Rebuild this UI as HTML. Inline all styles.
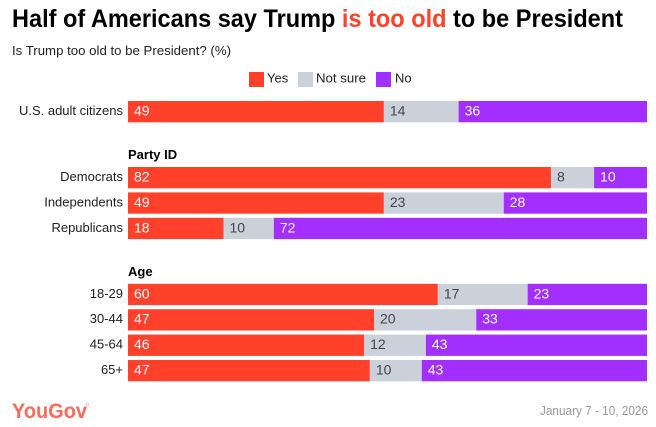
<!DOCTYPE html>
<html lang="en">
<head>
<meta charset="utf-8">
<title>Half of Americans say Trump is too old to be President</title>
<style>
html,body{margin:0;padding:0;background:#fff;width:656px;height:427px;overflow:hidden}
svg{display:block;font-family:"Liberation Sans",sans-serif}
</style>
</head>
<body>
<svg id="chart" xmlns="http://www.w3.org/2000/svg" width="656" height="427" viewBox="0 0 656 427">
  <rect x="0" y="0" width="656" height="427" fill="#fff"/>
  <text x="12" y="27" font-size="25" font-weight="700" fill="#000" textLength="611" lengthAdjust="spacingAndGlyphs">Half of Americans say Trump <tspan fill="#ff412c">is too old</tspan> to be President</text>
  <text x="12" y="55" font-size="13" fill="#222" textLength="219" lengthAdjust="spacingAndGlyphs">Is Trump too old to be President? (%)</text>

  <g>
    <rect x="249" y="72" width="15" height="15" fill="#ff412c"/>
    <text x="267" y="82.5" font-size="13" fill="#222">Yes</text>
    <rect x="298" y="72" width="15" height="15" fill="#cbd0da"/>
    <text x="316" y="82.5" font-size="13" fill="#222" textLength="50" lengthAdjust="spacingAndGlyphs">Not sure</text>
    <rect x="376" y="72" width="15" height="15" fill="#a32fff"/>
    <text x="395" y="82.5" font-size="13" fill="#222">No</text>
  </g>

  <g id="rows"></g>

  <text x="128" y="159" font-size="13" font-weight="700" fill="#000">Party ID</text>
  <text x="128" y="276" font-size="13" font-weight="700" fill="#000">Age</text>

  <text x="12" y="418" font-size="21" font-weight="700" fill="#ff6a58" textLength="75" lengthAdjust="spacingAndGlyphs">YouGov</text>
  <circle cx="87.5" cy="404.5" r="1.2" fill="none" stroke="#ffb0a6" stroke-width="0.6"/>
  <text x="648" y="415" font-size="13" fill="#999" text-anchor="end" textLength="108" lengthAdjust="spacingAndGlyphs">January 7 - 10, 2026</text>
</svg>
<script>
const categories = ['U.S. adult citizens', 'Democrats', 'Independents', 'Republicans', '18-29', '30-44', '45-64', '65+'];
const groupIndex = [0, 1, 1, 1, 2, 2, 2, 2];
const yesValues = [49.3, 81.5, 49.3, 18.4, 59.7, 47.4, 45.5, 46.6];
const notSureValues = [14.4, 8.3, 23.1, 9.7, 17.3, 19.7, 11.9, 10.0];
const noValues = [36.3, 10.2, 27.6, 71.9, 23.0, 32.9, 42.6, 43.4];

const svgNS = 'http://www.w3.org/2000/svg';
const rowsGroup = document.getElementById('rows');
const plotLeft = 128;
const plotWidth = 519;
const barHeight = 21.3;

function xScale(value) {
  return value / 100 * plotWidth;
}
function rowTop(index) {
  return 101 + index * 25.4 + groupIndex[index] * 40.6;
}
function drawSegment(parent, x, y, w, fill) {
  const rect = document.createElementNS(svgNS, 'rect');
  rect.setAttribute('x', x);
  rect.setAttribute('y', y);
  rect.setAttribute('width', w);
  rect.setAttribute('height', barHeight);
  rect.setAttribute('fill', fill);
  parent.appendChild(rect);
  return rect;
}
function drawValue(parent, x, y, value, fill) {
  const label = document.createElementNS(svgNS, 'text');
  label.setAttribute('x', x + 6);
  label.setAttribute('y', y + 14.5);
  label.setAttribute('font-size', '14');
  label.setAttribute('fill', fill);
  label.textContent = String(Math.round(value));
  parent.appendChild(label);
  return label;
}

categories.forEach(function (category, i) {
  const y = rowTop(i);
  const slug = category.toLowerCase().replace(/[^a-z0-9]+/g, '-');
  const row = document.createElementNS(svgNS, 'g');
  
  
  rowsGroup.appendChild(row);

  const rowLabel = document.createElementNS(svgNS, 'text');
  rowLabel.setAttribute('x', plotLeft - 5);
  rowLabel.setAttribute('y', y + 14);
  rowLabel.setAttribute('font-size', '13');
  rowLabel.setAttribute('fill', '#222');
  rowLabel.setAttribute('text-anchor', 'end');
  rowLabel.textContent = category;
  
  
  row.appendChild(rowLabel);

  const yesX = plotLeft;
  const notSureX = yesX + xScale(yesValues[i]);
  const noX = notSureX + xScale(notSureValues[i]);

  const yesBar = drawSegment(row, yesX, y, xScale(yesValues[i]), '#ff412c');
  
  
  const yesLabel = drawValue(row, yesX, y, yesValues[i], '#fff');
  
  

  const notSureBar = drawSegment(row, notSureX, y, xScale(notSureValues[i]), '#cbd0da');
  
  
  const notSureLabel = drawValue(row, notSureX, y, notSureValues[i], '#444');
  
  

  const noBar = drawSegment(row, noX, y, xScale(noValues[i]), '#a32fff');
  
  
  const noLabel = drawValue(row, noX, y, noValues[i], '#fff');
  
  
});
</script>
</body>
</html>
